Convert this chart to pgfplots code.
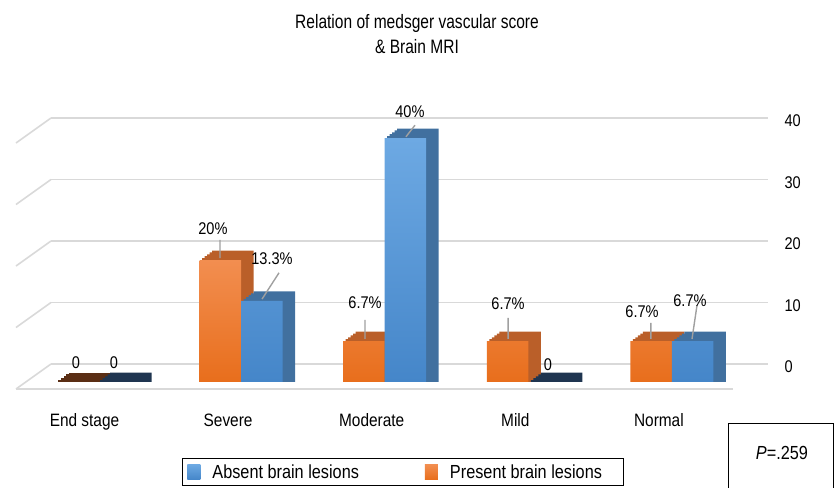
\documentclass[border=0pt]{standalone}
\usepackage{pgfplots}
\usepackage{pgfplotstable}
\pgfplotsset{compat=1.18}
\usepackage{fontspec}
\setmainfont{Liberation Sans}[FakeStretch=0.86]
\newfontfamily\titlefont{Liberation Sans}[FakeStretch=0.8]
\definecolor{gridgray}{HTML}{D9D9D9}
\definecolor{orTop}{HTML}{F28E50}
\definecolor{orBot}{HTML}{E86E1C}
\definecolor{orDark}{HTML}{BA5F29}
\definecolor{blTop}{HTML}{6DA9E3}
\definecolor{blBot}{HTML}{4586C9}
\definecolor{blDark}{HTML}{41709F}
\definecolor{zeroBr}{HTML}{5A2E14}
\definecolor{zeroBl}{HTML}{1F3550}
\definecolor{leader}{HTML}{A0A0A0}
\pgfplotsset{legsq/.style={legend image code/.code={\path[##1, draw=none] (0bp,-7.5bp) rectangle (13bp,7.5bp);}}}
\pgfplotstableread{
x v
1 20
2 6.7
3 6.7
4 6.7
}\orangedata
\pgfplotstableread{
x v
1 13.3
2 40
4 6.7
}\bluedata
\pgfplotstableread{
x v
0 0
}\orangezero
\pgfplotstableread{
x v
0 0
3 0
}\bluezero
% depth step of a 3D bar: table, colour, bar shift (bp), height offset
\newcommand{\backstep}[4]{\addplot[ybar, bar width=41.5bp, bar shift=#3bp, fill=#2, draw=none, forget plot] table[x=x, y expr=\thisrow{v}+#4] {#1};}
\begin{document}
\begin{tikzpicture}
\useasboundingbox (0,0) rectangle (834bp,488bp);
% back wall with grid lines and value ticks
\begin{axis}[at={(51bp,124bp)}, anchor=south west, scale only axis,
  width=717bp, height=246bp, xmin=0, xmax=1, ymin=0, ymax=40,
  xtick=\empty, ytick={0,10,20,30,40}, ymajorgrids,
  grid style={gridgray, line width=1.6bp},
  axis line style={draw=none}, major tick length=0pt,
  yticklabel pos=right,
  yticklabel style={font=\fontsize{17}{20}\selectfont, xshift=13bp, yshift=-3bp},
  /pgf/number format/assume math mode=true, clip=false]
  \addplot[draw=none, forget plot] coordinates {(0,0)(1,40)};
  \pgfplotsinvokeforeach{0,10,20,30,40}{\draw[gridgray, line width=1.6bp] (axis cs:0,#1) -- ++(-35bp,-25bp);}
  \draw[gridgray, line width=1.6bp] (axis cs:0,0) ++(-35bp,-25bp) -- ++(717bp,0);
\end{axis}
% bars
\begin{axis}[at={(25.7bp,106bp)}, anchor=south west, scale only axis,
  width=718bp, height=274.5bp, xmin=-0.5, xmax=4.5, ymin=0, ymax=45,
  axis line style={draw=none}, major tick length=0pt, ytick=\empty,
  xtick={0,1,2,3,4}, xticklabels={End stage,Severe,Moderate,Mild,Normal},
  xticklabel style={font=\fontsize{18}{20}\selectfont, anchor=north, xshift=-13bp, yshift=-28bp},
  clip=false, reverse legend, legend columns=2,
  legend style={at={(axis description cs:0.2177,-0.2769)}, anchor=north west,
    draw=black, line width=0.8bp, font=\fontsize{19}{22}\selectfont,
    inner xsep=5bp, inner ysep=4bp,
    /tikz/every odd column/.append style={column sep=10bp},
    /tikz/every even column/.append style={column sep=64bp}},
  legend cell align=left]
\backstep{\orangedata}{orDark}{-18.25}{0.31}
\backstep{\orangedata}{orDark}{-15.75}{0.62}
\backstep{\orangedata}{orDark}{-13.25}{0.93}
\backstep{\orangedata}{orDark}{-10.75}{1.24}
\backstep{\orangedata}{orDark}{-8.25}{1.55}
\backstep{\orangezero}{zeroBr}{-18.25}{0.31}
\backstep{\orangezero}{zeroBr}{-15.75}{0.62}
\backstep{\orangezero}{zeroBr}{-13.25}{0.93}
\backstep{\orangezero}{zeroBr}{-10.75}{1.24}
\backstep{\orangezero}{zeroBr}{-8.25}{1.55}
\backstep{\bluedata}{blDark}{23.25}{0.31}
\backstep{\bluedata}{blDark}{25.75}{0.62}
\backstep{\bluedata}{blDark}{28.25}{0.93}
\backstep{\bluedata}{blDark}{30.75}{1.24}
\backstep{\bluedata}{blDark}{33.25}{1.55}
\backstep{\bluezero}{zeroBl}{23.25}{0.31}
\backstep{\bluezero}{zeroBl}{25.75}{0.62}
\backstep{\bluezero}{zeroBl}{28.25}{0.93}
\backstep{\bluezero}{zeroBl}{30.75}{1.24}
\backstep{\bluezero}{zeroBl}{33.25}{1.55}
\addplot[ybar, bar width=41.5bp, bar shift=-20.75bp, top color=orTop, bottom color=orBot, draw=none, legsq] table[x=x, y=v] {\orangedata};
\addlegendentry{Present brain lesions\rule{14bp}{0pt}}
\addplot[ybar, bar width=41.5bp, bar shift=20.75bp, top color=blTop, bottom color=blBot, draw=none, legsq] table[x=x, y=v] {\bluedata};
\addlegendentry{Absent brain lesions}
\addplot[leader, line width=1.4bp, forget plot, unbounded coords=jump] coordinates {
(0.853,20.3)(0.853,23.3) (0.9,nan)
(1.146,13.6)(1.264,17.9) (1.2,nan)
(1.863,7.05)(1.863,10.2) (1.9,nan)
(2.148,40.2)(2.211,42.1) (2.2,nan)
(2.859,7.05)(2.859,10.5) (2.9,nan)
(3.854,7.05)(3.854,9.7) (3.9,nan)
(4.140,7.05)(4.175,12.6)};
\addplot[draw=none, forget plot, nodes near coords, point meta=explicit symbolic,
  every node near coord/.append style={anchor=center, font=\fontsize{17}{20}\selectfont, text=black}]
  coordinates {(-0.150,3.1)[0] (0.115,3.1)[0] (0.804,25.1)[20\%] (1.215,20.3)[13.3\%] (1.863,12.95)[6.7\%] (2.176,44.3)[40\%] (2.859,12.8)[6.7\%] (3.137,2.8)[0] (3.792,11.6)[6.7\%] (4.126,13.4)[6.7\%]};
\end{axis}
\node[align=center, font=\titlefont\fontsize{19.5}{25}\selectfont] at (417bp,453.5bp) {Relation of medsger vascular score\\\& Brain MRI};
\draw[line width=0.8bp] (728bp,-2bp) -- (728bp,65bp) -- (833bp,65bp) -- (833bp,-2bp);
\node[font=\fontsize{19}{22}\selectfont] at (782bp,35bp) {\textit{P}=.259};
\end{tikzpicture}
\end{document}
